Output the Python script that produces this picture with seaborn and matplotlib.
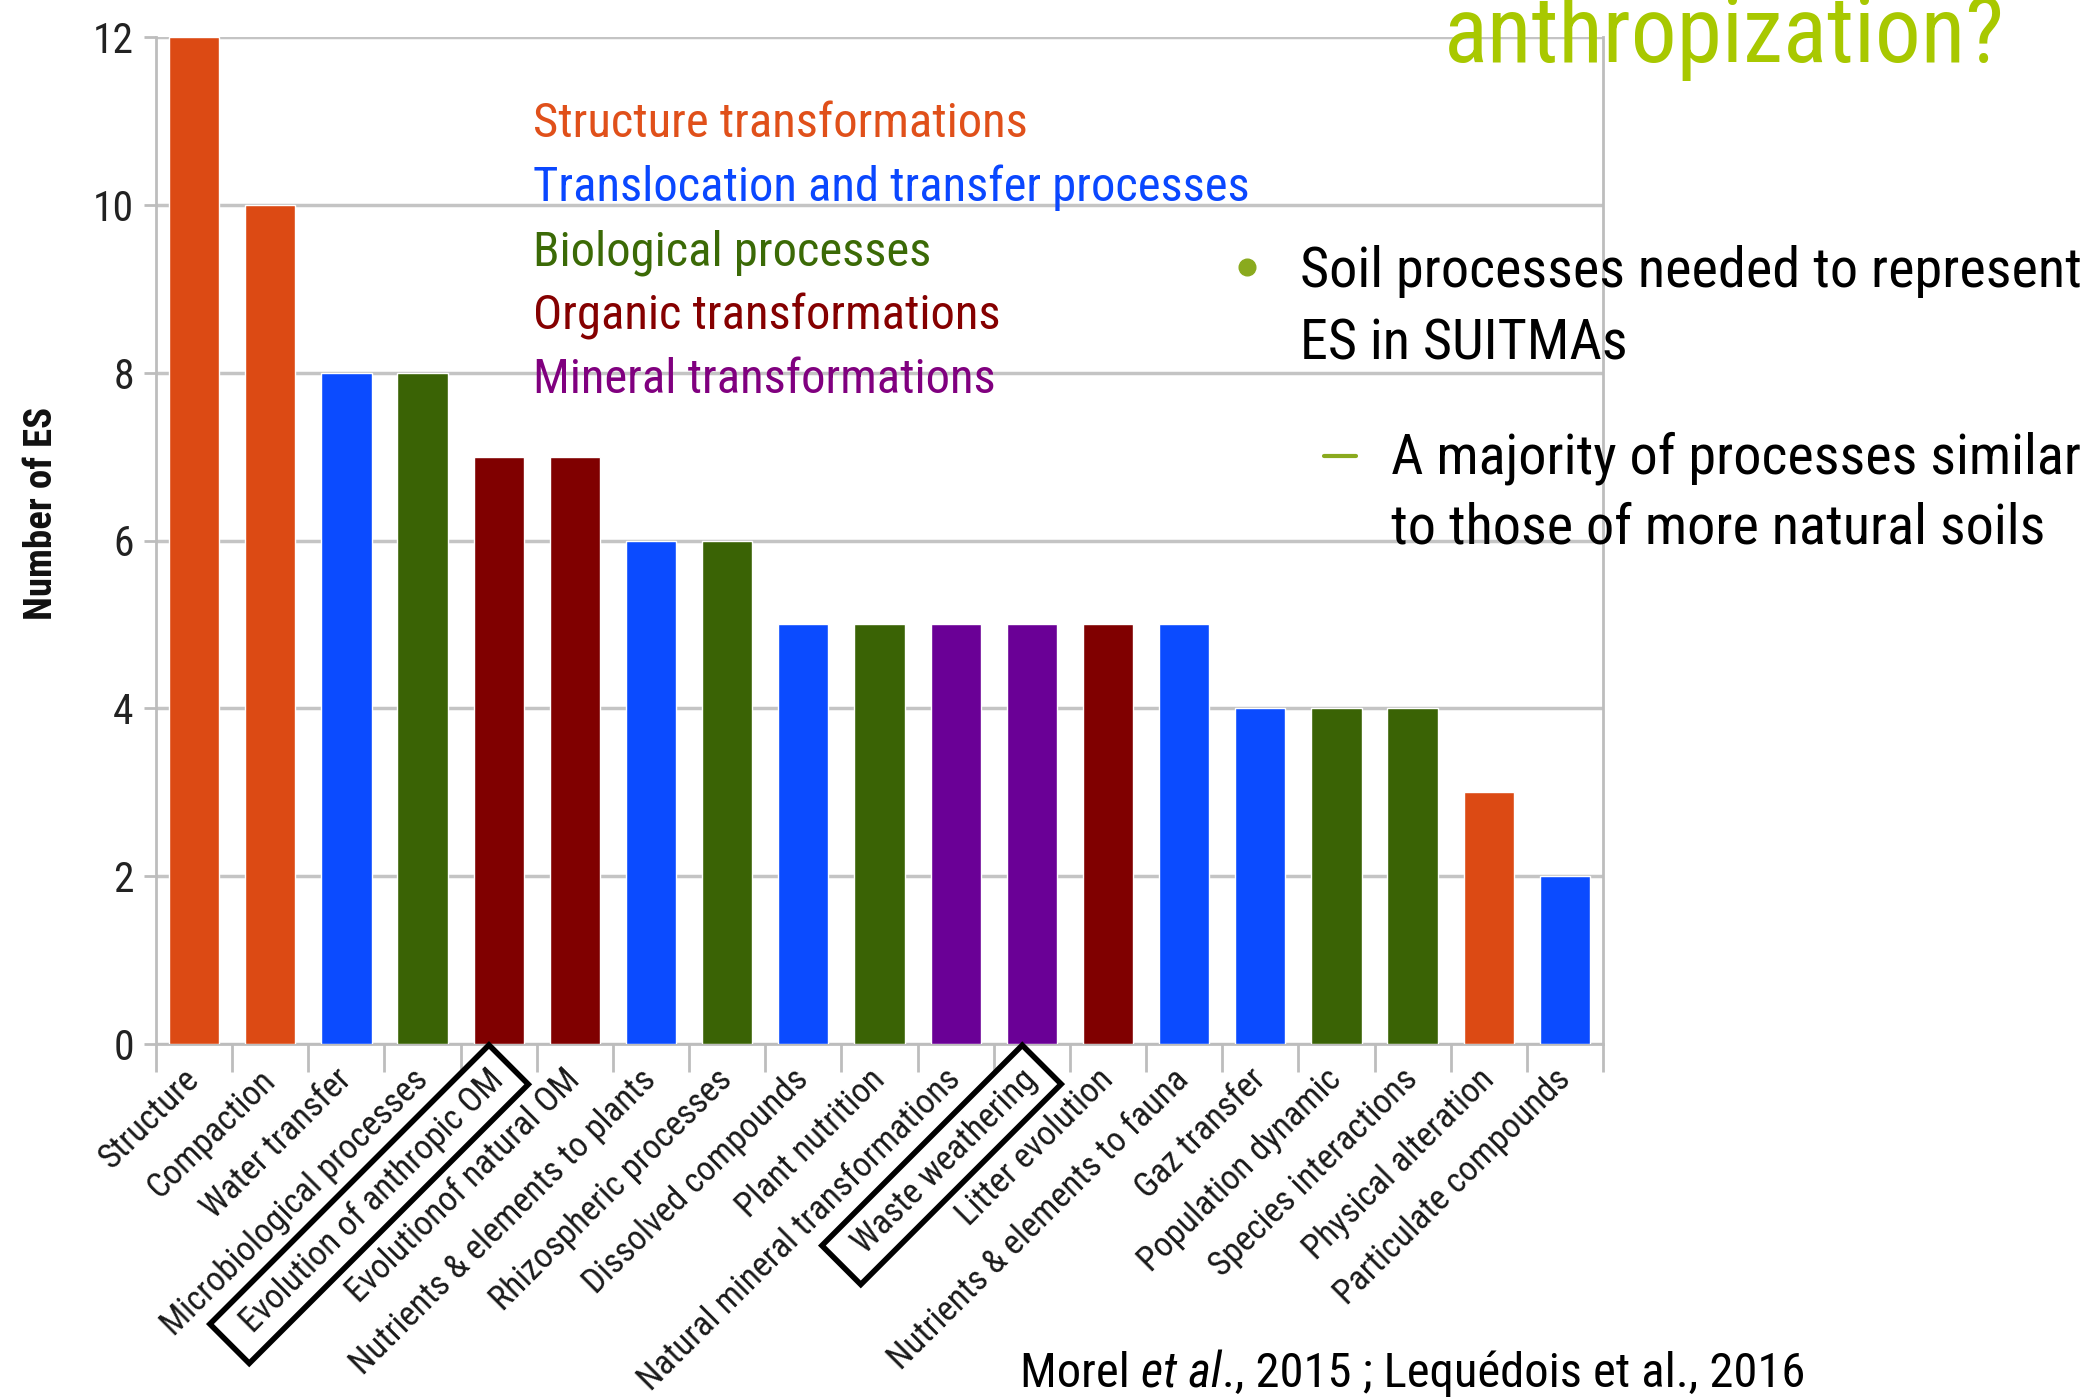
import matplotlib
matplotlib.use("Agg")
import matplotlib.pyplot as plt
import seaborn as sns
import numpy as np
import pandas as pd
from matplotlib import font_manager
from matplotlib.patches import Polygon
from matplotlib.lines import Line2D

# ---------------- data ----------------
categories = [
    "Structure", "Compaction", "Water transfer", "Microbiological processes",
    "Evolution of anthropic OM", "Evolutionof natural OM",
    "Nutrients & elements to plants", "Rhizospheric processes",
    "Dissolved compounds", "Plant nutrition", "Natural mineral transformations",
    "Waste weathering", "Litter evolution", "Nutrients & elements to fauna",
    "Gaz transfer", "Population dynamic", "Species interactions",
    "Physical alteration", "Particulate compounds",
]
values = [12, 10, 8, 8, 7, 7, 6, 6, 5, 5, 5, 5, 5, 5, 4, 4, 4, 3, 2]
groups = ["structure", "structure", "transfer", "bio", "organic", "organic",
          "transfer", "bio", "transfer", "bio", "mineral", "mineral", "organic",
          "transfer", "transfer", "bio", "bio", "structure", "transfer"]
group_keys = ["structure", "transfer", "bio", "organic", "mineral"]
group_labels = ["Structure transformations", "Translocation and transfer processes",
                "Biological processes", "Organic transformations", "Mineral transformations"]
bar_colors = {"structure": "#DC4A14", "transfer": "#0B4BFF", "bio": "#3A6305",
              "organic": "#800000", "mineral": "#6A0096"}
text_colors = {"structure": "#E0501A", "transfer": "#0A47FF", "bio": "#3B6A06",
               "organic": "#850000", "mineral": "#80007F"}
highlighted = ["Evolution of anthropic OM", "Waste weathering"]
yticks = [0, 2, 4, 6, 8, 10, 12]

# ---------------- fonts ----------------
sns.set_style("white")
names = {f.name for f in font_manager.fontManager.ttflist}
FONT = "Liberation Sans"
for cand in ["Liberation Sans Narrow", "Roboto Condensed", "Noto Sans Condensed",
             "Open Sans Condensed", "DejaVu Sans Condensed"]:
    if cand in names:
        FONT = cand
        break
plt.rcParams["font.family"] = [FONT, "DejaVu Sans"]

W, H = 2091, 1397
fig = plt.figure(figsize=(W / 100, H / 100), dpi=100)
fig.patch.set_facecolor("white")

def fx(px):
    return px / W

def fy(py):
    return 1 - py / H

ax = fig.add_axes([fx(156), fy(1044), fx(1603) - fx(156), fy(37) - fy(1044)])

df = pd.DataFrame({"cat": categories, "val": values})
palette = [bar_colors[g] for g in groups]
sns.barplot(data=df, x="cat", y="val", hue="cat", palette=palette, legend=False,
            width=0.66, saturation=1, ax=ax, zorder=3)

ax.set_xlim(-0.5, len(categories) - 0.5)
ax.set_ylim(0, 12)
ax.set_yticks(yticks)
ax.set_yticklabels([str(t) for t in yticks], fontsize=30, color="#222222")
ax.yaxis.grid(True, color="#C4C4C4", lw=2.5, zorder=0)
ax.xaxis.grid(False)
ax.set_axisbelow(True)
for side in ["left", "bottom", "right"]:
    ax.spines[side].set_visible(True)
    ax.spines[side].set_color("#BDBDBD")
    ax.spines[side].set_linewidth(2)
ax.spines["top"].set_visible(False)
ax.tick_params(axis="y", left=True, length=9, width=2, color="#BDBDBD", pad=7)

ax.set_xticks(range(len(categories)))
ax.set_xticklabels(categories, rotation=45, ha="right", va="center",
                   rotation_mode="anchor", fontsize=25, color="#1A1A1A")
ax.tick_params(axis="x", which="major", length=0, pad=22)
ax.set_xticks(np.arange(-0.5, len(categories), 1.0), minor=True)
ax.tick_params(axis="x", which="minor", length=20, width=2, color="#BDBDBD", bottom=True)
ax.set_xlabel("")
ax.set_ylabel("Number of ES", fontsize=28, fontweight="bold", color="#111111")
ax.yaxis.set_label_coords(-0.066, 0.527)

# group "legend" as coloured text
for i, (k, lab) in enumerate(zip(group_keys, group_labels)):
    fig.text(fx(533), fy(137 + 64 * i), lab, color=text_colors[k], fontsize=35,
             va="baseline", ha="left")

# slide texts
fig.text(fx(1444), fy(62), "anthropization?", color="#A8C800", fontsize=66,
         va="baseline", ha="left")
fig.add_artist(Line2D([fx(1247)], [fy(267)], marker="o", markersize=12,
                      color="#8AAA1E", transform=fig.transFigure))
fig.text(fx(1300), fy(287), "Soil processes needed to represent", fontsize=40.5,
         color="black", va="baseline")
fig.text(fx(1300), fy(360), "ES in SUITMAs", fontsize=40.5, color="black", va="baseline")
fig.add_artist(Line2D([fx(1324), fx(1356)], [fy(456), fy(456)], lw=3,
                      color="#8AAA1E", transform=fig.transFigure))
fig.text(fx(1391), fy(473), "A majority of processes similar", fontsize=40.5,
         color="black", va="baseline")
fig.text(fx(1391), fy(544), "to those of more natural soils", fontsize=40.5,
         color="black", va="baseline")

t1 = fig.text(fx(1020), fy(1387), "Morel ", fontsize=35, color="black", va="baseline")
t2 = fig.text(0, 0, "et al", fontsize=35, style="italic", color="black")
t3 = fig.text(0, 0, "., 2015 ; Lequédois et al., 2016", fontsize=35, color="black")

fig.canvas.draw()
renderer = fig.canvas.get_renderer()
inv = fig.transFigure.inverted()
x0, _ = inv.transform((t1.get_window_extent(renderer).x1, 0))
t2.set_position((x0, fy(1387)))
t2.set_va("baseline")
fig.canvas.draw()
x1, _ = inv.transform((t2.get_window_extent(renderer).x1, 0))
t3.set_position((x1, fy(1387)))
t3.set_va("baseline")

# boxes around highlighted tick labels
fig.canvas.draw()
u = np.array([np.cos(np.pi / 4), np.sin(np.pi / 4)])
v = np.array([-np.sin(np.pi / 4), np.cos(np.pi / 4)])
for lab in ax.get_xticklabels():
    if lab.get_text() not in highlighted:
        continue
    anchor = np.array(lab.get_transform().transform(lab.get_position()))
    rot = lab.get_rotation()
    lab.set_rotation(0)
    bb = lab.get_window_extent(renderer)
    L, Ht = bb.width, bb.height
    lab.set_rotation(rot)
    p_back, p_front, p_side = 24, 14, 11
    hw = Ht / 2 + p_side
    corners = [anchor + u * p_front - v * hw,
               anchor + u * p_front + v * hw,
               anchor - u * (L + p_back) + v * hw,
               anchor - u * (L + p_back) - v * hw]
    corners = inv.transform(np.array(corners))
    fig.add_artist(Polygon(corners, closed=True, fill=False, edgecolor="black",
                           lw=4, transform=fig.transFigure, clip_on=False))

fig.savefig("out.png", dpi=100, facecolor="white")
